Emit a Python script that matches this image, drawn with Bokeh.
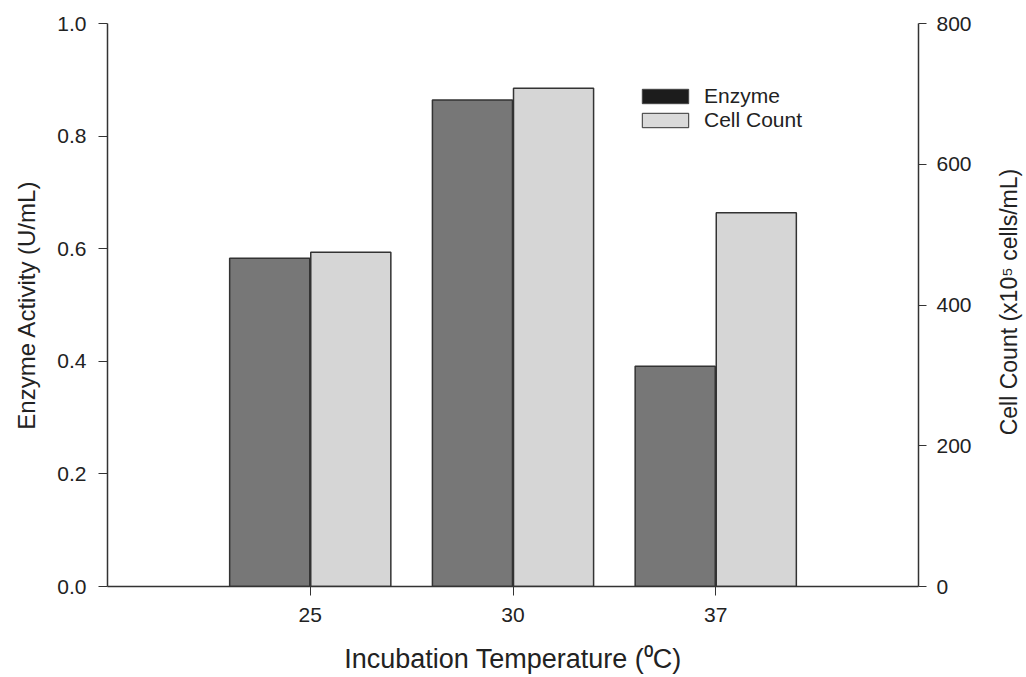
import math
from bokeh.plotting import figure
from bokeh.layouts import row
from bokeh.models import (Range1d, LinearAxis, FactorRange, Legend, LegendItem,
                          FixedTicker, NumeralTickFormatter)
from bokeh.core.properties import value
from bokeh.transform import dodge
from bokeh.embed import file_html
from bokeh.resources import INLINE

temps = ["25", "30", "37"]
enzyme = [0.583, 0.864, 0.391]
cell_count = [475, 708, 531]
enzyme_ticks = [0.0, 0.2, 0.4, 0.6, 0.8, 1.0]
cell_ticks = [0, 200, 400, 600, 800]
right_title = "Cell Count (x10\u2075 cells/mL)"

FONT = "Liberation Sans"
INK = "#222222"
LINE = "#333333"
TICK_FS = "21px"

p = figure(width=985, height=677, output_backend="svg", toolbar_location=None,
           x_range=FactorRange(factors=temps, range_padding=1/3, range_padding_units="percent"),
           y_range=Range1d(0, 1.0),
           min_border_left=107, min_border_right=67, min_border_top=23, min_border_bottom=91)
p.extra_y_ranges = {"cell": Range1d(0, 800)}
p.background_fill_color = "white"
p.border_fill_color = "white"
p.outline_line_color = None
p.grid.visible = False

src = dict(temp=temps, enzyme=enzyme, cell=cell_count)
p.vbar(x=dodge("temp", -0.2, range=p.x_range), top="enzyme", width=0.395, bottom=0,
       source=src, fill_color="#777777", line_color=LINE, line_width=1.5)
p.vbar(x=dodge("temp", 0.2, range=p.x_range), top="cell", width=0.395, bottom=0,
       source=src, fill_color="#d6d6d6", line_color=LINE, line_width=1.5,
       y_range_name="cell")

# legend swatches (placed outside the visible range so only the legend shows them)
d1 = p.rect(x=[temps[0]], y=[-10], width=0.1, height=0.1, fill_color="#1c1c1c", line_color="#444444")
d2 = p.rect(x=[temps[0]], y=[-10], width=0.1, height=0.1, fill_color="#dadada", line_color=LINE)
leg = Legend(items=[LegendItem(label="Enzyme", renderers=[d1]),
                    LegendItem(label="Cell Count", renderers=[d2])],
             location=(529, 454), padding=0, margin=0, spacing=0,
             glyph_width=58, glyph_height=18, label_height=18, label_standoff=10,
             label_text_font=FONT, label_text_font_size="21px", label_text_color=INK,
             border_line_color=None, background_fill_alpha=0)
p.add_layout(leg, "center")

for ax in [p.xaxis[0], p.yaxis[0]]:
    ax.axis_line_color = LINE
    ax.axis_line_width = 1.5
    ax.major_tick_line_color = LINE
    ax.major_tick_in = 0
    ax.minor_tick_line_color = None
    ax.major_label_text_font = FONT
    ax.major_label_text_font_size = TICK_FS
    ax.major_label_text_color = INK
    ax.axis_label_text_font = FONT
    ax.axis_label_text_font_style = "normal"
    ax.axis_label_text_color = INK

p.xaxis[0].major_tick_out = 9
p.xaxis[0].major_label_standoff = 12
p.xaxis[0].axis_label = "Incubation Temperature (\u2070C)"
p.xaxis[0].axis_label_text_font_size = "27px"
p.xaxis[0].axis_label_standoff = 19

p.yaxis[0].ticker = FixedTicker(ticks=enzyme_ticks)
p.yaxis[0].formatter = NumeralTickFormatter(format="0.0")
p.yaxis[0].major_tick_out = 9
p.yaxis[0].major_label_standoff = 12
p.yaxis[0].axis_label = "Enzyme Activity (U/mL)"
p.yaxis[0].axis_label_text_font_size = "24px"
p.yaxis[0].axis_label_standoff = 14

ry = LinearAxis(y_range_name="cell", ticker=FixedTicker(ticks=cell_ticks))
ry.axis_line_color = LINE
ry.axis_line_width = 1.5
ry.major_tick_line_color = LINE
ry.major_tick_in = 0
ry.major_tick_out = 8
ry.minor_tick_line_color = None
ry.major_label_standoff = 10
ry.major_label_text_font = FONT
ry.major_label_text_font_size = TICK_FS
ry.major_label_text_color = INK
p.add_layout(ry, "right")

# narrow strip at the right carrying the right-axis title, reading bottom-to-top
t = figure(width=41, height=677, output_backend="svg", toolbar_location=None,
           x_range=Range1d(0, 41), y_range=Range1d(0, 677),
           x_axis_type=None, y_axis_type=None,
           min_border=0, min_border_left=0, min_border_right=0,
           min_border_top=0, min_border_bottom=0)
t.outline_line_color = None
t.background_fill_color = "white"
t.border_fill_color = "white"
t.grid.visible = False
t.text(x=[23], y=[342], text=[right_title], angle=math.pi / 2,
       text_align="center", text_baseline="middle",
       text_font=value(FONT), text_font_size="23px", text_color=INK)

layout = row(p, t, spacing=0)
open("out.html", "w").write(file_html(layout, INLINE))
